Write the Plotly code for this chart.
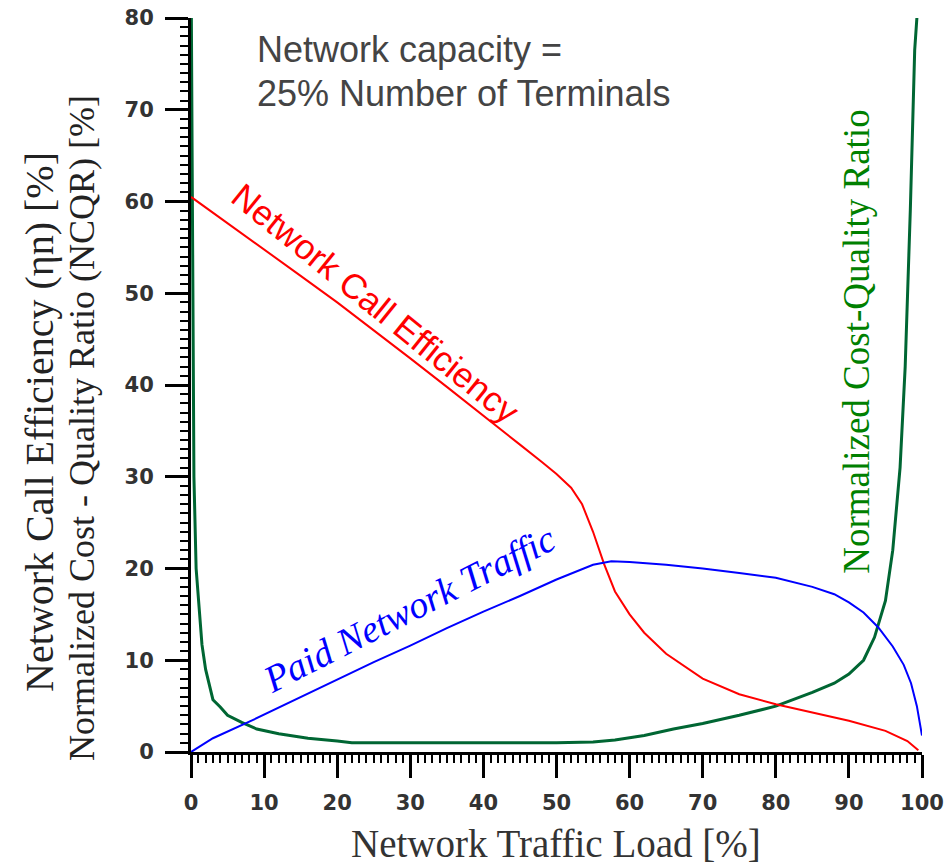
import plotly.graph_objects as go

# ---- data ----
x_red = [0, 5, 10, 15, 20, 25, 30, 35, 40, 45, 48, 50, 52, 53.5, 55, 56.5, 58, 60, 62, 65, 70, 75, 80, 85, 90, 95, 98, 99.5]
y_red = [60.5, 57.6, 54.8, 51.9, 49.0, 46.0, 42.9, 39.8, 36.6, 33.5, 31.6, 30.3, 28.8, 27.0, 24.0, 20.5, 17.5, 15.0, 13.0, 10.7, 8.0, 6.3, 5.2, 4.3, 3.4, 2.3, 1.2, 0.2]

x_blue = [0, 3, 8.5, 17.6, 25, 30, 35, 40, 45, 50, 53, 55, 57.5, 60, 65, 70, 75, 80, 85, 88, 90, 92, 94, 96, 97.5, 98.5, 99.3, 100]
y_blue = [0, 1.5, 3.5, 7.0, 9.8, 11.6, 13.5, 15.3, 17.0, 18.8, 19.8, 20.4, 20.8, 20.7, 20.4, 20.0, 19.5, 19.0, 18.0, 17.2, 16.3, 15.2, 13.6, 11.5, 9.5, 7.5, 5.0, 1.8]

x_green = [0.05, 0.2, 0.4, 0.7, 1.0, 1.5, 2, 2.5, 3, 4, 5, 7, 9, 12, 16, 20, 22, 30, 40, 50, 55, 58, 62, 66, 70, 75, 80, 85, 88, 90, 92, 93.5, 95, 96, 97, 97.7, 98.4, 99, 99.3]
y_green = [80, 50, 30, 20, 16.5, 11.7, 9.0, 7.3, 5.7, 4.9, 4.0, 3.2, 2.5, 2.0, 1.5, 1.2, 1.0, 1.0, 1.0, 1.0, 1.1, 1.3, 1.8, 2.5, 3.1, 4.0, 5.0, 6.5, 7.5, 8.5, 10, 12.5, 16.5, 22, 31, 42, 59, 76.5, 80]

x_ticks = [0, 10, 20, 30, 40, 50, 60, 70, 80, 90, 100]
y_ticks = [0, 10, 20, 30, 40, 50, 60, 70, 80]

x_title = "Network Traffic Load [%]"
y_title_1 = "Network Call Efficiency (ηn) [%]"
y_title_2 = "Normalized Cost - Quality Ratio (NCQR) [%]"
note_1 = "Network capacity ="
note_2 = "25% Number of Terminals"
label_red = "Network Call Efficiency"
label_blue = "Paid Network Traffic"
label_green = "Normalized Cost-Quality Ratio"

fig = go.Figure()
fig.add_trace(go.Scatter(x=x_green, y=y_green, mode="lines",
                         line=dict(color="#006633", width=3), showlegend=False))
fig.add_trace(go.Scatter(x=x_red, y=y_red, mode="lines",
                         line=dict(color="#ff0000", width=2), showlegend=False))
fig.add_trace(go.Scatter(x=x_blue, y=y_blue, mode="lines",
                         line=dict(color="#0000ff", width=2), showlegend=False))

tickfont = dict(family="DejaVu Sans, sans-serif", size=21, color="#333333", weight="bold")
axis_common = dict(showline=True, linecolor="black", linewidth=3,
                   ticks="outside", ticklen=23, tickwidth=3, tickcolor="black",
                   showgrid=False, zeroline=False, tickfont=tickfont,
                   ticklabelstandoff=7, layer="below traces", automargin=False,
                   minor=dict(ticks="outside", ticklen=8, tickwidth=2, tickcolor="black",
                              dtick=1, showgrid=False))

fig.update_xaxes(range=[0, 100], tickvals=x_ticks, ticktext=[str(v) for v in x_ticks], **axis_common)
fig.update_yaxes(range=[0, 80], tickvals=y_ticks, ticktext=[str(v) for v in y_ticks], **axis_common)

L, R, T, B = 191, 29, 18, 113
W, H = 951, 865
pw, ph = W - L - R, H - T - B

def px(xp):
    return (xp - L) / pw

def py(yp):
    return (H - B - yp) / ph

serif = "Liberation Serif, Times New Roman, serif"
sans = "Liberation Sans, Arial, sans-serif"

annotations = [
    dict(text=x_title, x=px(556), y=py(843), xref="paper", yref="paper",
         showarrow=False, font=dict(family=serif, size=39, color="#333333"),
         xanchor="center", yanchor="middle"),
    dict(text=y_title_1, x=px(39), y=py(422), xref="paper", yref="paper",
         showarrow=False, textangle=-90, font=dict(family=serif, size=40, color="#222222"),
         xanchor="center", yanchor="middle"),
    dict(text=y_title_2, x=px(82), y=py(428), xref="paper", yref="paper",
         showarrow=False, textangle=-90, font=dict(family=serif, size=36, color="#222222"),
         xanchor="center", yanchor="middle"),
    dict(text=note_1, x=px(255), y=py(50), xref="paper", yref="paper",
         showarrow=False, font=dict(family=sans, size=36, color="#444444"),
         xanchor="left", yanchor="middle"),
    dict(text=note_2, x=px(255), y=py(93), xref="paper", yref="paper",
         showarrow=False, font=dict(family=sans, size=36, color="#444444"),
         xanchor="left", yanchor="middle"),
    dict(text=label_red, x=25.3, y=48.9, xref="x", yref="y",
         showarrow=False, textangle=39, font=dict(family=sans, size=35, color="#ff0000"),
         xanchor="center", yanchor="middle"),
    dict(text="<i>" + label_blue + "</i>", x=29.8, y=15.6, xref="x", yref="y",
         showarrow=False, textangle=-27, font=dict(family=serif, size=38, color="#0000ff"),
         xanchor="center", yanchor="middle"),
    dict(text=label_green, x=91.1, y=44.7, xref="x", yref="y",
         showarrow=False, textangle=-90, font=dict(family=serif, size=37, color="#008000"),
         xanchor="center", yanchor="middle"),
]

fig.update_layout(width=W, height=H, margin=dict(l=L, r=R, t=T, b=B, pad=0),
                  plot_bgcolor="white", paper_bgcolor="white",
                  annotations=annotations, showlegend=False)

fig.write_html("out.html", config={"displayModeBar": False},
               post_script="document.body.style.margin='0px';document.body.style.overflow='hidden';")
